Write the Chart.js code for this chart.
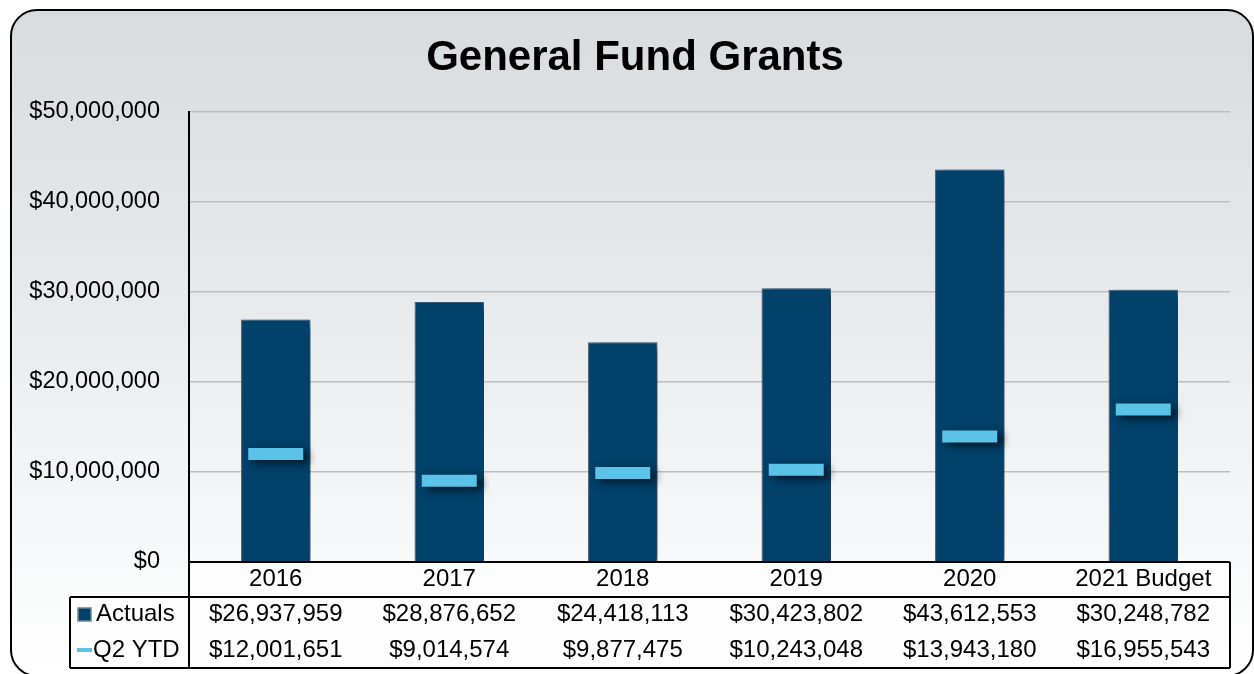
<!DOCTYPE html>
<html>
<head>
<meta charset="utf-8">
<title>General Fund Grants</title>
<script src="https://cdn.jsdelivr.net/npm/chart.js@4"></script>
<style>
  html, body { margin: 0; padding: 0; background: #fff; }
  canvas { display: block; }
</style>
</head>
<body>
<canvas id="grants" width="1254" height="674"></canvas>
<script>
// Chart data
const categories = ['2016', '2017', '2018', '2019', '2020', '2021 Budget'];
const actuals = [26937959, 28876652, 24418113, 30423802, 43612553, 30248782];
const q2ytd = [12001651, 9014574, 9877475, 10243048, 13943180, 16955543];

const FONT = "'Liberation Sans', Arial, sans-serif";
const BAR = '#01416a';
const DASH = '#5bc3e8';

function money(v) {
  return '$' + Math.round(v).toLocaleString('en-US');
}

// rounded panel with grey-to-white gradient + title
const panel = {
  id: 'panel',
  beforeDraw(chart) {
    const ctx = chart.ctx;
    const x = 11, y = 10, w = 1242, h = 666, r = 26;
    ctx.save();
    const g = ctx.createLinearGradient(0, y, 0, y + h);
    g.addColorStop(0, '#d8dcdf');
    g.addColorStop(0.45, '#e8ebed');
    g.addColorStop(1, '#ffffff');
    ctx.beginPath();
    ctx.roundRect(x, y, w, h, r);
    ctx.fillStyle = g;
    ctx.fill();
    ctx.lineWidth = 2;
    ctx.strokeStyle = '#000';
    ctx.stroke();
    ctx.fillStyle = '#000';
    ctx.font = 'bold 42px ' + FONT;
    ctx.textAlign = 'center';
    ctx.textBaseline = 'alphabetic';
    ctx.fillText('General Fund Grants', 635, 70);
    ctx.restore();
  }
};

// drop shadow under bars and dashes
const shadow = {
  id: 'shadow',
  beforeDatasetDraw(chart) {
    const ctx = chart.ctx;
    ctx.save();
    ctx.shadowColor = 'rgba(0,0,0,0.7)';
    ctx.shadowBlur = 9;
    ctx.shadowOffsetX = 5;
    ctx.shadowOffsetY = 3;
  },
  afterDatasetDraw(chart) {
    chart.ctx.restore();
  }
};

// data table under the plot
const dataTable = {
  id: 'dataTable',
  afterDraw(chart) {
    const ctx = chart.ctx;
    const xs = chart.scales.x;
    const area = chart.chartArea;
    const top = area.bottom, row1 = 597, bottom = 668, left = 70;
    ctx.save();

    // cover bar shadows below the axis
    ctx.fillStyle = '#fdfdfd';
    ctx.fillRect(area.left, top, area.right - area.left, row1 - top);
    ctx.fillRect(left, row1, area.right - left, bottom - row1);

    ctx.strokeStyle = '#000';
    ctx.lineWidth = 2;
    ctx.beginPath();
    ctx.moveTo(area.left, area.top); ctx.lineTo(area.left, bottom);
    ctx.moveTo(area.left, top); ctx.lineTo(area.right, top);
    ctx.moveTo(area.right, top); ctx.lineTo(area.right, bottom);
    ctx.moveTo(left, row1); ctx.lineTo(area.right, row1);
    ctx.moveTo(left, bottom); ctx.lineTo(area.right, bottom);
    ctx.moveTo(left, row1); ctx.lineTo(left, bottom);
    ctx.stroke();

    ctx.fillStyle = '#000';
    ctx.font = '24px ' + FONT;
    ctx.textAlign = 'center';
    ctx.textBaseline = 'middle';
    categories.forEach((c, i) => {
      const cx = xs.getPixelForValue(i);
      ctx.fillText(c, cx, 579);
      ctx.fillText(money(actuals[i]), cx, 614);
      ctx.fillText(money(q2ytd[i]), cx, 650);
    });

    // legend keys
    ctx.fillStyle = BAR;
    ctx.fillRect(78, 608, 13, 13);
    ctx.strokeStyle = '#6f8597';
    ctx.lineWidth = 1.5;
    ctx.strokeRect(78, 608, 13, 13);
    ctx.strokeStyle = DASH;
    ctx.lineWidth = 4;
    ctx.beginPath();
    ctx.moveTo(77, 650); ctx.lineTo(92, 650);
    ctx.stroke();
    ctx.fillStyle = '#000';
    ctx.textAlign = 'left';
    ctx.fillText('Actuals', 96, 614);
    ctx.fillText('Q2 YTD', 93, 650);
    ctx.restore();
  }
};

new Chart(document.getElementById('grants'), {
  type: 'bar',
  data: {
    labels: categories,
    datasets: [
      {
        type: 'line',
        label: 'Q2 YTD',
        data: q2ytd,
        showLine: false,
        pointStyle: 'line',
        pointRadius: 27.5,
        pointHoverRadius: 27.5,
        pointBorderWidth: 12,
        pointHoverBorderWidth: 12,
        pointBorderColor: DASH,
        pointBackgroundColor: DASH,
        order: 1
      },
      {
        label: 'Actuals',
        data: actuals,
        backgroundColor: BAR,
        borderColor: '#3f6583',
        borderWidth: 1,
        barPercentage: 0.4,
        categoryPercentage: 1,
        order: 2
      }
    ]
  },
  options: {
    responsive: false,
    animation: false,
    layout: { autoPadding: false, padding: { top: 112, bottom: 112, left: 0, right: 24 } },
    plugins: { legend: { display: false }, tooltip: { enabled: false }, title: { display: false } },
    scales: {
      x: { display: false },
      y: {
        min: 0,
        max: 50000000,
        afterFit(scale) { scale.width = 189; },
        border: { display: true, color: '#000', width: 2 },
        grid: { color: '#bdbdbd', lineWidth: 1.5, drawTicks: false },
        ticks: {
          stepSize: 10000000,
          padding: 29,
          color: '#000',
          font: { family: FONT, size: 23.5 },
          callback: v => money(v)
        }
      }
    }
  },
  plugins: [panel, shadow, dataTable]
});
</script>
</body>
</html>
